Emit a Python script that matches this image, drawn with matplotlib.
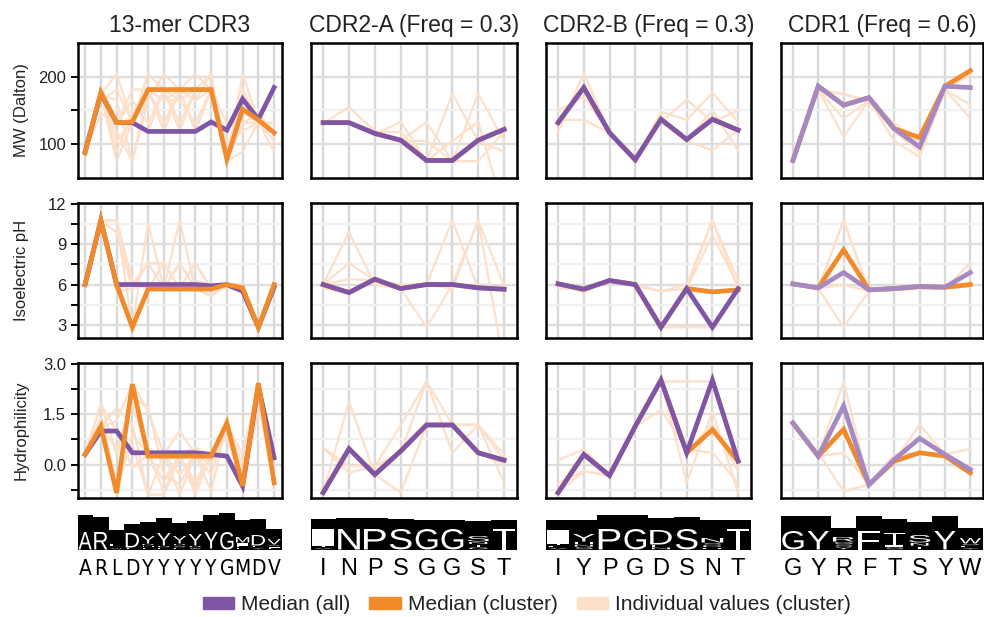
import numpy as np
import matplotlib.pyplot as plt
from matplotlib.patches import Patch, PathPatch
from matplotlib.textpath import TextPath
from matplotlib.font_manager import FontProperties, fontManager
from matplotlib.transforms import Affine2D

plt.rcParams['font.family'] = ['Liberation Sans', 'DejaVu Sans']

PURPLE = '#7f55a6'
PURPLE_LIGHT = '#a688c3'
ORANGE = '#f08a2a'
PEACH = '#fde0ca'

# ---------------- 13-mer CDR3 ----------------
cdr3_seq = 'ARLDYYYYYGMDV'
cdr3_mw_all = [89, 175, 132, 132, 119, 119, 119, 119, 133, 121, 167, 137, 184]
cdr3_mw_cluster = [87, 177, 132, 133, 181, 181, 181, 181, 181, 78, 152, 136, 117]
cdr3_mw_ind = [
    [89, 174, 204, 131, 181, 165, 181, 119, 181, 75, 149, 133, 117],
    [89, 174, 75, 133, 204, 181, 165, 181, 181, 75, 131, 133, 117],
    [89, 174, 119, 75, 165, 204, 181, 204, 181, 75, 204, 133, 131],
    [89, 174, 131, 181, 181, 119, 181, 165, 204, 75, 149, 133, 89],
    [89, 165, 181, 133, 119, 181, 131, 181, 181, 105, 119, 133, 117],
    [89, 174, 89, 146, 181, 181, 119, 181, 181, 75, 89, 133, 117],
    [89, 174, 165, 75, 181, 131, 181, 181, 204, 75, 131, 146, 117],
    [89, 146, 131, 133, 181, 165, 165, 131, 181, 131, 149, 133, 131],
    [89, 174, 105, 133, 204, 181, 181, 181, 181, 75, 181, 133, 117],
    [89, 174, 131, 165, 131, 181, 181, 165, 181, 75, 149, 133, 105],
]
cdr3_pi_all = [6.0, 10.8, 6.0, 6.0, 6.0, 6.0, 6.0, 6.0, 5.9, 6.0, 5.5, 2.8, 5.8]
cdr3_pi_cluster = [6.0, 10.8, 6.0, 2.8, 5.66, 5.66, 5.66, 5.66, 5.66, 6.0, 5.75, 2.8, 6.0]
cdr3_pi_ind = [
    [6.0, 10.8, 10.8, 6.0, 5.7, 5.7, 7.6, 5.7, 5.7, 6.0, 5.7, 2.8, 6.0],
    [6.0, 10.8, 10.8, 2.8, 10.6, 5.7, 5.7, 5.7, 5.1, 6.0, 6.0, 2.8, 6.0],
    [6.0, 10.8, 9.9, 5.7, 7.6, 7.6, 5.7, 7.6, 5.7, 6.0, 5.7, 2.8, 6.0],
    [6.0, 10.8, 6.0, 2.8, 5.7, 5.7, 10.8, 5.7, 5.7, 6.0, 5.7, 2.8, 6.0],
    [6.0, 10.8, 5.7, 6.0, 7.6, 5.7, 7.6, 5.7, 5.7, 6.0, 6.0, 2.8, 6.0],
    [6.0, 10.8, 6.0, 2.8, 5.7, 7.6, 5.7, 6.3, 6.0, 5.7, 5.7, 2.8, 6.0],
    [6.0, 10.8, 5.5, 5.7, 6.0, 5.7, 5.7, 7.6, 5.7, 6.0, 5.7, 2.8, 6.0],
    [6.0, 10.8, 10.8, 6.3, 5.7, 6.0, 5.7, 5.7, 5.2, 6.0, 5.9, 2.8, 6.0],
]
cdr3_hy_all = [0.3, 1.0, 1.0, 0.35, 0.35, 0.35, 0.35, 0.35, 0.3, 0.25, -0.65, 2.35, 0.2]
cdr3_hy_cluster = [0.3, 1.14, -0.85, 2.4, 0.25, 0.25, 0.25, 0.25, 0.25, 1.24, -0.64, 2.43, -0.55]
cdr3_hy_ind = [
    [0.3, 1.8, 0.3, 2.0, 1.7, -0.3, -0.6, 0.3, 0.0, 1.2, -0.6, 1.8, -0.5],
    [0.3, 1.1, 1.7, 1.2, -0.9, -0.9, 0.2, -0.5, 0.3, 1.2, -0.6, 2.4, -0.6],
    [0.3, 1.1, -0.8, 2.4, 0.3, 0.3, 1.0, 0.3, -0.3, 1.2, 0.3, 2.4, 0.2],
    [0.3, 1.8, 1.0, -0.1, 0.3, -0.8, 0.3, -0.7, 0.4, 0.3, -0.6, 2.1, -0.5],
    [0.3, 1.1, 0.5, 1.8, 0.3, 0.3, -0.3, 0.3, -0.8, 1.2, 0.0, 2.4, -0.6],
    [0.3, 1.4, -0.5, 0.6, -0.9, 0.3, 0.3, -0.9, 0.3, 0.8, -0.6, 1.6, 0.3],
    [0.3, 1.1, 1.3, 2.4, 1.6, 0.3, -0.9, 0.3, 0.3, 1.2, -0.6, 2.4, -0.6],
    [0.3, 1.1, -0.8, 0.9, 0.3, -0.5, 0.3, 0.5, 0.3, 1.2, -0.2, 2.4, -0.6],
]
cdr3_logo_top = [35, 33, 20, 26, 28, 32, 27, 29, 35, 37, 30, 31, 21]
cdr3_logo_stack = [18, 18, 6, 17, 14, 17, 14, 16, 18, 18, 13, 15, 11]
cdr3_logo_main = [18, 18, 2.5, 15, 8, 13, 8, 12, 17, 18, 6, 11, 6]
cdr3_logo_sub = ['', '', 'WF', 'E', 'FHD', 'FD', 'FSD', 'WD', 'F', '', 'LFI', 'YE', 'LIS']

# ---------------- CDR2-A ----------------
cdr2a_seq = 'INPSGGST'
cdr2a_mw_all = [132, 132, 116, 106, 76, 76, 106, 122]
cdr2a_mw_cluster = [132, 132, 116, 106, 76, 76, 106, 122]
cdr2a_mw_ind = [
    [131, 155, 119, 105, 133, 75, 75, 119],
    [131, 132, 115, 133, 75, 175, 105, 89],
    [131, 132, 115, 105, 105, 75, 175, 105],
    [131, 131, 119, 118, 75, 105, 133, 0],
]
cdr2a_pi_all = [6.0, 5.4, 6.4, 5.7, 6.0, 6.0, 5.75, 5.65]
cdr2a_pi_cluster = [6.0, 5.4, 6.4, 5.7, 6.0, 6.0, 5.75, 5.65]
cdr2a_pi_ind = [
    [6.0, 9.9, 6.0, 5.7, 6.0, 10.8, 5.7, 5.7],
    [6.0, 7.6, 6.3, 5.7, 2.8, 6.0, 10.8, 5.9],
    [6.0, 6.4, 6.3, 5.7, 6.0, 6.0, 5.7, 5.6],
    [5.7, 5.4, 6.3, 6.0, 6.0, 5.7, 10.8, 0.0],
]
cdr2a_hy_all = [-0.84, 0.47, -0.3, 0.4, 1.18, 1.18, 0.35, 0.13]
cdr2a_hy_cluster = [-0.84, 0.47, -0.3, 0.4, 1.18, 1.18, 0.35, 0.13]
cdr2a_hy_ind = [
    [0.5, -0.25, -0.05, 1.16, 2.48, 1.19, 1.19, 0.3],
    [-0.84, 1.88, -0.3, 0.35, 2.48, 0.35, 1.19, -0.55],
    [-0.84, 0.47, -0.3, -0.84, 1.16, 1.19, 0.35, 0.0],
    [0.5, -0.05, -0.05, 0.35, 1.16, 1.19, 1.19, 0.13],
]
cdr2a_logo_top = [31, 32, 32, 31, 30, 30, 29, 30]
cdr2a_logo_stack = [21, 21, 21, 21, 21, 21, 14, 21]
cdr2a_logo_main = [17, 21, 21, 21, 21, 21, 6, 21]
cdr2a_logo_sub = ['VT', '', '', '', '', '', 'GTN', '']

# ---------------- CDR2-B ----------------
cdr2b_seq = 'IYPGDSNT'
cdr2b_mw_all = [132, 184, 117, 77, 137, 107, 137, 121]
cdr2b_mw_cluster = [132, 184, 117, 77, 137, 107, 137, 121]
cdr2b_mw_ind = [
    [118, 206, 117, 75, 133, 166, 133, 150],
    [150, 170, 117, 75, 148, 136, 176, 133],
    [132, 184, 117, 75, 137, 105, 91, 121],
    [136, 136, 117, 75, 133, 106, 150, 91],
]
cdr2b_pi_all = [6.05, 5.65, 6.3, 6.0, 2.8, 5.7, 2.8, 5.7]
cdr2b_pi_cluster = [6.05, 5.65, 6.3, 6.0, 2.8, 5.7, 5.45, 5.6]
cdr2b_pi_ind = [
    [5.7, 5.65, 6.3, 6.0, 5.5, 5.7, 10.8, 6.3],
    [6.0, 5.65, 6.3, 6.0, 2.8, 2.8, 2.8, 5.6],
    [6.0, 5.65, 6.3, 6.0, 2.8, 5.7, 9.7, 5.9],
    [6.0, 5.4, 6.3, 5.9, 5.5, 6.0, 10.8, 5.6],
]
cdr2b_hy_all = [-0.84, 0.3, -0.33, 1.14, 2.52, 0.35, 2.52, 0.1]
cdr2b_hy_cluster = [-0.84, 0.3, -0.33, 1.14, 2.52, 0.35, 1.04, 0.1]
cdr2b_hy_ind = [
    [0.13, 0.45, -0.33, 1.14, 1.63, 0.45, 0.35, -0.55],
    [-0.55, -0.2, -0.33, 1.14, 2.48, 2.48, 2.48, 0.0],
    [-0.84, 0.3, -0.33, 1.14, 2.52, -0.55, 1.6, -0.84],
    [-0.84, -0.2, -0.33, 1.14, 2.52, 0.35, 1.24, -0.2],
]
cdr2b_logo_top = [30, 30, 35, 35, 32, 33, 30, 30]
cdr2b_logo_stack = [20, 16, 21, 21, 20, 21, 12, 21]
cdr2b_logo_main = [14, 8, 21, 21, 15, 21, 5, 21]
cdr2b_logo_sub = ['VFT', 'SNH', '', '', 'NE', '', 'HDS', '']

# ---------------- CDR1 ----------------
cdr1_seq = 'GYRFTSYW'
cdr1_mw_all = [76, 186, 158, 169, 123, 96, 186, 184]
cdr1_mw_cluster = [76, 186, 158, 169, 123, 110, 186, 209]
cdr1_mw_ind = [
    [75, 181, 174, 165, 119, 105, 181, 204],
    [75, 181, 138, 165, 119, 89, 181, 158],
    [75, 181, 111, 165, 105, 81, 181, 138],
    [75, 181, 174, 165, 131, 105, 181, 204],
]
cdr1_pi_all = [6.05, 5.75, 6.9, 5.6, 5.7, 5.85, 5.8, 6.9]
cdr1_pi_cluster = [6.05, 5.75, 8.6, 5.6, 5.7, 5.85, 5.8, 6.0]
cdr1_pi_ind = [
    [6.0, 5.7, 10.8, 5.5, 5.6, 5.7, 5.7, 5.9],
    [6.0, 5.7, 2.8, 5.5, 5.6, 5.7, 5.7, 7.6],
    [6.0, 5.7, 6.0, 5.5, 5.6, 5.7, 5.7, 5.9],
    [6.0, 5.7, 10.8, 5.5, 5.6, 5.9, 5.7, 5.9],
]
cdr1_hy_all = [1.24, 0.25, 1.75, -0.6, 0.15, 0.78, 0.3, -0.15]
cdr1_hy_cluster = [1.24, 0.25, 1.05, -0.6, 0.1, 0.35, 0.25, -0.25]
cdr1_hy_ind = [
    [1.24, 0.25, 2.48, -0.6, 0.1, 1.19, 0.3, -0.1],
    [1.24, 0.35, -0.8, -0.6, 0.1, 0.35, 0.3, 0.47],
    [1.24, 0.25, 0.35, -0.6, 0.3, 0.35, 0.25, -0.25],
    [1.24, 0.25, 1.75, -0.6, 0.15, 0.78, 0.3, -0.1],
]
cdr1_logo_top = [34, 34, 22, 34, 31, 28, 34, 22]
cdr1_logo_stack = [19, 19, 13, 19, 17, 15, 19, 12]
cdr1_logo_main = [19, 19, 5, 19, 12, 8, 19, 6]
cdr1_logo_sub = ['', '', 'YSG', '', 'SI', 'TN', '', 'YFS']

titles = ['13-mer CDR3', 'CDR2-A (Freq = 0.3)', 'CDR2-B (Freq = 0.3)', 'CDR1 (Freq = 0.6)']
row_labels = ['MW (Dalton)', 'Isoelectric pH', 'Hydrophilicity']

columns = [
    dict(seq=cdr3_seq, purple=PURPLE, orange_top=True,
         rows=[(cdr3_mw_all, cdr3_mw_cluster, cdr3_mw_ind),
               (cdr3_pi_all, cdr3_pi_cluster, cdr3_pi_ind),
               (cdr3_hy_all, cdr3_hy_cluster, cdr3_hy_ind)],
         logo=(cdr3_logo_top, cdr3_logo_stack, cdr3_logo_main, cdr3_logo_sub)),
    dict(seq=cdr2a_seq, purple=PURPLE, orange_top=False,
         rows=[(cdr2a_mw_all, cdr2a_mw_cluster, cdr2a_mw_ind),
               (cdr2a_pi_all, cdr2a_pi_cluster, cdr2a_pi_ind),
               (cdr2a_hy_all, cdr2a_hy_cluster, cdr2a_hy_ind)],
         logo=(cdr2a_logo_top, cdr2a_logo_stack, cdr2a_logo_main, cdr2a_logo_sub)),
    dict(seq=cdr2b_seq, purple=PURPLE, orange_top=False,
         rows=[(cdr2b_mw_all, cdr2b_mw_cluster, cdr2b_mw_ind),
               (cdr2b_pi_all, cdr2b_pi_cluster, cdr2b_pi_ind),
               (cdr2b_hy_all, cdr2b_hy_cluster, cdr2b_hy_ind)],
         logo=(cdr2b_logo_top, cdr2b_logo_stack, cdr2b_logo_main, cdr2b_logo_sub)),
    dict(seq=cdr1_seq, purple=PURPLE_LIGHT, orange_top=False,
         rows=[(cdr1_mw_all, cdr1_mw_cluster, cdr1_mw_ind),
               (cdr1_pi_all, cdr1_pi_cluster, cdr1_pi_ind),
               (cdr1_hy_all, cdr1_hy_cluster, cdr1_hy_ind)],
         logo=(cdr1_logo_top, cdr1_logo_stack, cdr1_logo_main, cdr1_logo_sub)),
]

# y-axis settings per row: limits, major ticks, tick labels, minor ticks
row_ylim = [(50, 250), (2, 12.1), (-1, 3.03)]
row_major = [[100, 200], [3, 6, 9, 12], [0, 1.5, 3.0]]
row_major_lbl = [['100', '200'], ['3', '6', '9', '12'], ['0.0', '1.5', '3.0']]
row_minor = [[150], [4.5, 7.5, 10.5], [-0.75, 0.75, 2.25]]

W, H = 984, 617
col_left = [78, 311, 546, 781]
col_width = [204, 206, 205, 202]
row_top = [43, 203, 363]
row_height = 135

LOGO_FONT = FontProperties(family='Liberation Sans')


def narrow_font():
    # condensed face for the tightly packed 13-mer letters, if one is installed
    files = [f.fname for f in fontManager.ttflist]
    prefs = ['LiberationSansNarrow-Regular', 'DejaVuSansCondensed.', 'NotoSans-Condensed.',
             'Roboto_Condensed-Regular', 'RobotoCondensed-Regular', 'OpenSans_Condensed-Regular']
    for p in prefs:
        for fn in files:
            if p in fn:
                size = 17 if 'Narrow' in p else 15
                return FontProperties(fname=fn, size=size)
    return FontProperties(family='Liberation Sans', size=14.5)


NARROW = narrow_font()


def glyph(ax, ch, xc, y0, w, h, color='white'):
    # letter stretched to fill a box, like a sequence-logo glyph
    tp = TextPath((0, 0), ch, size=10, prop=LOGO_FONT)
    ext = tp.get_extents()
    tr = (Affine2D().translate(-ext.x0, -ext.y0)
          .scale(w / ext.width, h / ext.height)
          .translate(xc - w / 2, y0))
    ax.add_patch(PathPatch(tr.transform_path(tp), fc=color, ec='none', lw=0))


fig = plt.figure(figsize=(W / 100, H / 100), dpi=100)

for c, col in enumerate(columns):
    n = len(col['seq'])
    xlim = (-0.45, n - 0.5) if n > 8 else (-0.47, n - 0.5)
    xs = np.arange(n)
    for r in range(3):
        ax = fig.add_axes([col_left[c] / W, 1 - (row_top[r] + row_height) / H,
                           col_width[c] / W, row_height / H])
        all_v, cl_v, ind_v = col['rows'][r]
        for line in ind_v:
            ax.plot(xs, line, color=PEACH, lw=1.6, zorder=2, solid_joinstyle='miter')
        z_or, z_pu = (4, 3) if col['orange_top'] else (3, 4)
        ax.plot(xs, cl_v, color=ORANGE, lw=3.4, zorder=z_or, solid_joinstyle='miter')
        ax.plot(xs, all_v, color=col['purple'], lw=3.4, zorder=z_pu, solid_joinstyle='miter')

        ax.set_xlim(*xlim)
        ax.set_ylim(*row_ylim[r])
        ax.set_xticks(xs)
        ax.set_yticks(row_major[r])
        ax.set_yticks(row_minor[r], minor=True)
        ax.set_axisbelow(True)
        ax.grid(axis='x', which='major', color='#d9d9d9', lw=1.7)
        ax.grid(axis='y', which='major', color='#dedede', lw=1.7)
        ax.grid(axis='y', which='minor', color='#f1f1f1', lw=1.7)
        ax.tick_params(axis='x', which='both', bottom=False, labelbottom=False)
        for sp in ax.spines.values():
            sp.set_linewidth(1.8)
        if c == 0:
            ax.set_yticklabels(row_major_lbl[r])
            ax.tick_params(axis='y', which='both', length=5, width=1.4,
                           labelsize=12, color='black', labelcolor='#222222')
            ax.set_ylabel(row_labels[r], fontsize=12, color='#222222')
            ax.yaxis.set_label_coords(-0.24, 0.5)
        else:
            ax.tick_params(axis='y', which='both', left=False, labelleft=False)
        if r == 0:
            ax.set_title(titles[c], fontsize=16.5, pad=8, color='#222222')

    # sequence logo under the column, y in pixel units
    lax = fig.add_axes([col_left[c] / W, 1 - 580 / H, col_width[c] / W, 75 / H])
    lax.set_xlim(*xlim)
    lax.set_ylim(0, 75)
    lax.axis('off')
    tops, stacks, mains, subs = col['logo']
    base = 30
    lax.bar(xs, tops, width=1.0, bottom=base, color='black', lw=0)
    for i, ch in enumerate(col['seq']):
        y = base + 0.5
        sub = subs[i]
        if sub:
            sh = (stacks[i] - mains[i]) / len(sub)
            for s in sub:
                glyph(lax, s, i, y + 0.3, 0.7, max(sh - 0.8, 0.6))
                y += sh
        glyph(lax, ch, i, y, 0.84, mains[i] - 0.5)
        if c == 0:
            lax.text(i, 5, ch, ha='center', va='baseline', fontproperties=NARROW,
                     color='black')
        else:
            lax.text(i, 5, ch, ha='center', va='baseline', fontsize=17,
                     color='black')

handles = [Patch(color=PURPLE), Patch(color=ORANGE), Patch(color=PEACH)]
fig.legend(handles, ['Median (all)', 'Median (cluster)', 'Individual values (cluster)'],
           loc='center', bbox_to_anchor=(527 / W, 1 - 605 / H), ncol=3, frameon=False,
           fontsize=15, handlelength=1.5, handleheight=0.5, handletextpad=0.35,
           columnspacing=0.9, labelcolor='#222222')

fig.savefig('out.png', dpi=100)
